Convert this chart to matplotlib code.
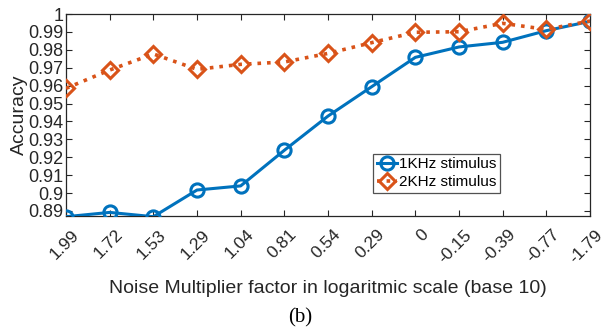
import matplotlib
matplotlib.use("Agg")
import matplotlib.pyplot as plt
import matplotlib.transforms as mtransforms
import numpy as np

x_labels = ["1.99", "1.72", "1.53", "1.29", "1.04", "0.81", "0.54", "0.29", "0",
            "-0.15", "-0.39", "-0.77", "-1.79"]
acc_1k = [0.8868, 0.8892, 0.8868, 0.9017, 0.9040, 0.9239, 0.9430, 0.9594, 0.9758,
          0.9816, 0.9842, 0.9907, 0.9959]
acc_2k = [0.9585, 0.9687, 0.9777, 0.9691, 0.9719, 0.9732, 0.9780, 0.9840, 0.9898,
          0.9901, 0.9948, 0.9914, 0.9961]
y_ticks = [0.89, 0.90, 0.91, 0.92, 0.93, 0.94, 0.95, 0.96, 0.97, 0.98, 0.99, 1.00]

plt.rcParams['font.family'] = ['Liberation Sans', 'DejaVu Sans']

fig = plt.figure(figsize=(6.01, 3.29), dpi=100)
ax = fig.add_axes([0.1098, 0.3435, 0.8719, 0.6139])

xs = np.arange(len(x_labels))
ax.plot(xs, acc_1k, '-', color='#0072BD', lw=2.2, marker='o', ms=9.5,
        mfc='none', mew=2.2, label='1KHz stimulus', zorder=3)
ax.plot(xs, acc_2k, ':', color='#D95319', lw=2.6, marker='D', ms=8.5,
        mfc='none', mew=2.2, label='2KHz stimulus', zorder=3)

ax.set_xlim(0, len(x_labels) - 1)
ax.set_ylim(0.8872, 1.0)
ax.set_xticks(xs)
ax.set_xticklabels(x_labels, rotation=45, ha='right', va='top',
                   rotation_mode='anchor')
ax.set_yticks(y_ticks)
ax.set_yticklabels(['%g' % v for v in y_ticks])
ax.tick_params(direction='in', top=True, right=True, colors='#262626',
               length=4, width=0.8)
ax.tick_params(axis='y', labelsize=13, pad=2)
ax.tick_params(axis='x', labelsize=12.5, pad=0)
offset = mtransforms.ScaledTranslation(5 / 100, -11 / 100, fig.dpi_scale_trans)
for lab in ax.get_xticklabels():
    lab.set_transform(lab.get_transform() + offset)
for s in ax.spines.values():
    s.set_color('#262626')
    s.set_linewidth(0.9)

ax.set_ylabel('Accuracy', fontsize=14, color='#262626', labelpad=0)
ax.set_xlabel('Noise Multiplier factor in logaritmic scale (base 10)',
              fontsize=14, color='#262626', labelpad=10)

leg = ax.legend(loc='lower left', bbox_to_anchor=(0.586, 0.114), fontsize=11,
                frameon=True, fancybox=False, edgecolor='#262626',
                handlelength=1.3, handletextpad=0.15, borderpad=0.25,
                labelspacing=0.25, borderaxespad=0)
leg.get_frame().set_linewidth(0.9)

fig.text(0.5, 0.033, '(b)', ha='center', va='center', fontsize=15,
         family=['Liberation Serif', 'DejaVu Serif'])

fig.savefig('out.png', dpi=100)
